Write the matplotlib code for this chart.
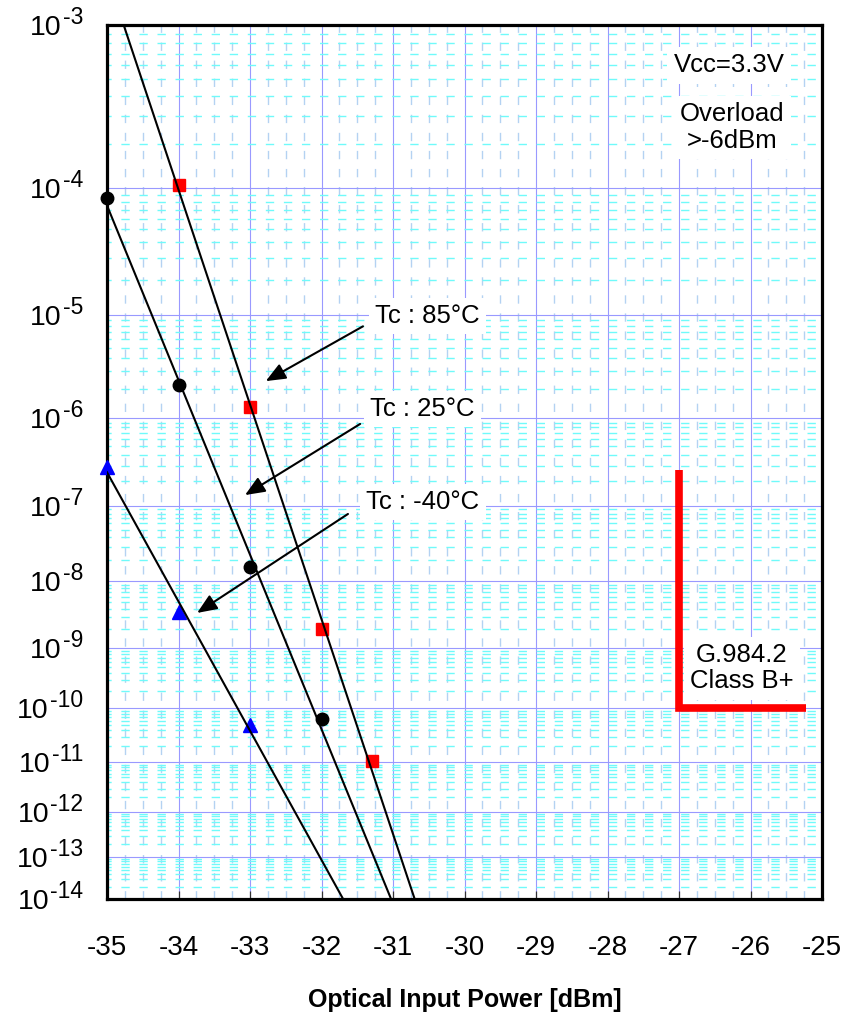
import numpy as np
import matplotlib
matplotlib.use("Agg")
import matplotlib.pyplot as plt
from matplotlib import transforms

plt.rcParams["font.family"] = ["Liberation Sans", "DejaVu Sans"]
plt.rcParams["lines.scale_dashes"] = False

# ---- data -------------------------------------------------------------
x_ticks = [-35, -34, -33, -32, -31, -30, -29, -28, -27, -26, -25]
x_tick_labels = ["-35", "-34", "-33", "-32", "-31", "-30", "-29", "-28", "-27", "-26", "-25"]
ber_decades = [1e-3, 1e-4, 1e-5, 1e-6, 1e-7, 1e-8, 1e-9, 1e-10, 1e-11, 1e-12, 1e-13, 1e-14]
decade_exponents = ["-3", "-4", "-5", "-6", "-7", "-8", "-9", "-10", "-11", "-12", "-13", "-14"]

power_85 = [-34.0, -33.0, -32.0, -31.3]
ber_85 = [1.05e-4, 1.3e-6, 2.0e-9, 1.05e-11]

power_25 = [-35.0, -34.0, -33.0, -32.0]
ber_25 = [8.5e-5, 2.2e-6, 1.6e-8, 6.3e-11]

power_m40 = [-35.0, -34.0, -33.0]
ber_m40 = [2.9e-7, 3.6e-9, 4.9e-11]

# G.984.2 Class B+ sensitivity limit
limit_power = [-27.0, -27.0, -25.22]
limit_ber = [2.7e-7, 1e-10, 1e-10]


# ---- BER scale: -log10(-log10(BER)) ----------------------------------
def ber_forward(b):
    b = np.asarray(b, dtype=float)
    with np.errstate(all="ignore"):
        return -np.log10(-np.log10(b))


def ber_inverse(t):
    t = np.asarray(t, dtype=float)
    with np.errstate(all="ignore"):
        return 10.0 ** (-(10.0 ** (-t)))


W, H = 847, 1031
fig = plt.figure(figsize=(W / 100, H / 100), dpi=100)
ax_l, ax_r, ax_t, ax_b = 107, 822, 25, 899
ax = fig.add_axes([ax_l / W, 1 - ax_b / H, (ax_r - ax_l) / W, (ax_b - ax_t) / H])
ax.set_yscale("function", functions=(ber_forward, ber_inverse))
ax.set_xlim(-35, -25)
ax.set_ylim(1e-14, 1e-3)

# ticks and grid
minor_y = [m * 10.0 ** e for e in range(-14, -3) for m in range(2, 10)]
minor_x = [x0 + k * 0.25 for x0 in x_ticks[:-1] for k in (1, 2, 3)]
ax.set_xticks(x_ticks)
ax.set_xticklabels(x_tick_labels)
ax.set_xticks(minor_x, minor=True)
ax.set_yticks(ber_decades)
ax.set_yticks(minor_y, minor=True)
ax.yaxis.set_major_formatter(plt.NullFormatter())
ax.yaxis.set_minor_formatter(plt.NullFormatter())

ax.set_axisbelow(True)
ax.grid(which="minor", axis="x", color="#B4D2F2", lw=1.0, ls=(0, (6, 7)))
ax.grid(which="minor", axis="y", color="#70FAFA", lw=1.0, ls=(3, (6, 7)))
ax.grid(which="major", axis="both", color="#9999FF", lw=0.8, ls="-")

ax.tick_params(axis="x", which="major", direction="in", length=5.5, width=0.9,
               color="#333333", labelsize=20, pad=26)
ax.tick_params(axis="x", which="minor", length=0)
ax.tick_params(axis="y", which="both", length=0)

for s in ax.spines.values():
    s.set_linewidth(2.3)
    s.set_color("black")

# y tick labels as 10 with a superscript exponent
renderer = fig.canvas.get_renderer()
ytrans = ax.get_yaxis_transform()
for b, ex in zip(ber_decades, decade_exponents):
    t_exp = ax.text(0, b, ex, fontsize=16.5,
                    transform=transforms.offset_copy(ytrans, fig, x=-24, y=1, units="dots"),
                    ha="right", va="baseline", clip_on=False)
    w = t_exp.get_window_extent(renderer=renderer).width
    ax.text(0, b, "10", fontsize=20.5,
            transform=transforms.offset_copy(ytrans, fig, x=-24 - w - 1, y=-10, units="dots"),
            ha="right", va="baseline", clip_on=False)

# ---- measured points and fitted lines --------------------------------
series = [
    (power_85, ber_85, "s", "#FF0000", 8.5),
    (power_25, ber_25, "o", "#000000", 9),
    (power_m40, ber_m40, "^", "#0000FF", 10),
]
xx = np.linspace(-35, -25, 400)
for px, pb, mk, col, ms in series:
    ax.plot(px, pb, ls="none", marker=mk, color=col, mec=col, ms=ms, zorder=3, clip_on=False)
    coef = np.polyfit(px, ber_forward(pb), 1)
    ax.plot(xx, ber_inverse(np.polyval(coef, xx)), color="black", lw=1.5, zorder=4)

# ---- Class B+ bracket ------------------------------------------------
ax.plot(limit_power, limit_ber, color="#FF0000", lw=5.5, solid_joinstyle="miter",
        solid_capstyle="butt", zorder=4)

# ---- annotations -----------------------------------------------------
box = dict(boxstyle="square,pad=0.25", fc="white", ec="none")
arrow = dict(arrowstyle="-|>,head_length=0.6,head_width=0.25", color="black", lw=1.5,
             mutation_scale=20, shrinkA=0, shrinkB=0)

labels = [
    ("Tc : 85\u00b0C", 0.3748, 0.667, (-32.78, 2.4e-6), (-31.42, 7.9e-6)),
    ("Tc : 25\u00b0C", 0.3678, 0.5606, (-33.07, 1.35e-7), (-31.46, 8.7e-7)),
    ("Tc : -40\u00b0C", 0.3622, 0.4542, (-33.74, 3.5e-9), (-31.63, 7.9e-8)),
]
for txt, tx, ty, head, tail in labels:
    ax.annotate("", xy=head, xytext=tail, arrowprops=arrow, zorder=5)
    ax.text(tx, ty, txt, transform=ax.transAxes, fontsize=18.5, ha="left", va="center",
            bbox=box, zorder=6)

ax.text(0.870, 0.954, "Vcc=3.3V", transform=ax.transAxes, fontsize=18.5,
        ha="center", va="center", bbox=box, zorder=6)
ax.text(0.874, 0.8827, "Overload\n>-6dBm", transform=ax.transAxes, fontsize=18.5,
        ha="center", va="center", linespacing=1.15, bbox=box, zorder=6)
ax.text(0.888, 0.264, "G.984.2\nClass B+", transform=ax.transAxes, fontsize=18.5,
        ha="center", va="center", linespacing=1.12, bbox=box, zorder=6)

ax.set_xlabel("Optical Input Power [dBm]", fontsize=18, fontweight="bold")
ax.xaxis.set_label_coords(0.5, (ax_b - 1000) / (ax_b - ax_t))
ax.xaxis.label.set_va("center")

fig.savefig("out.png", dpi=100)
